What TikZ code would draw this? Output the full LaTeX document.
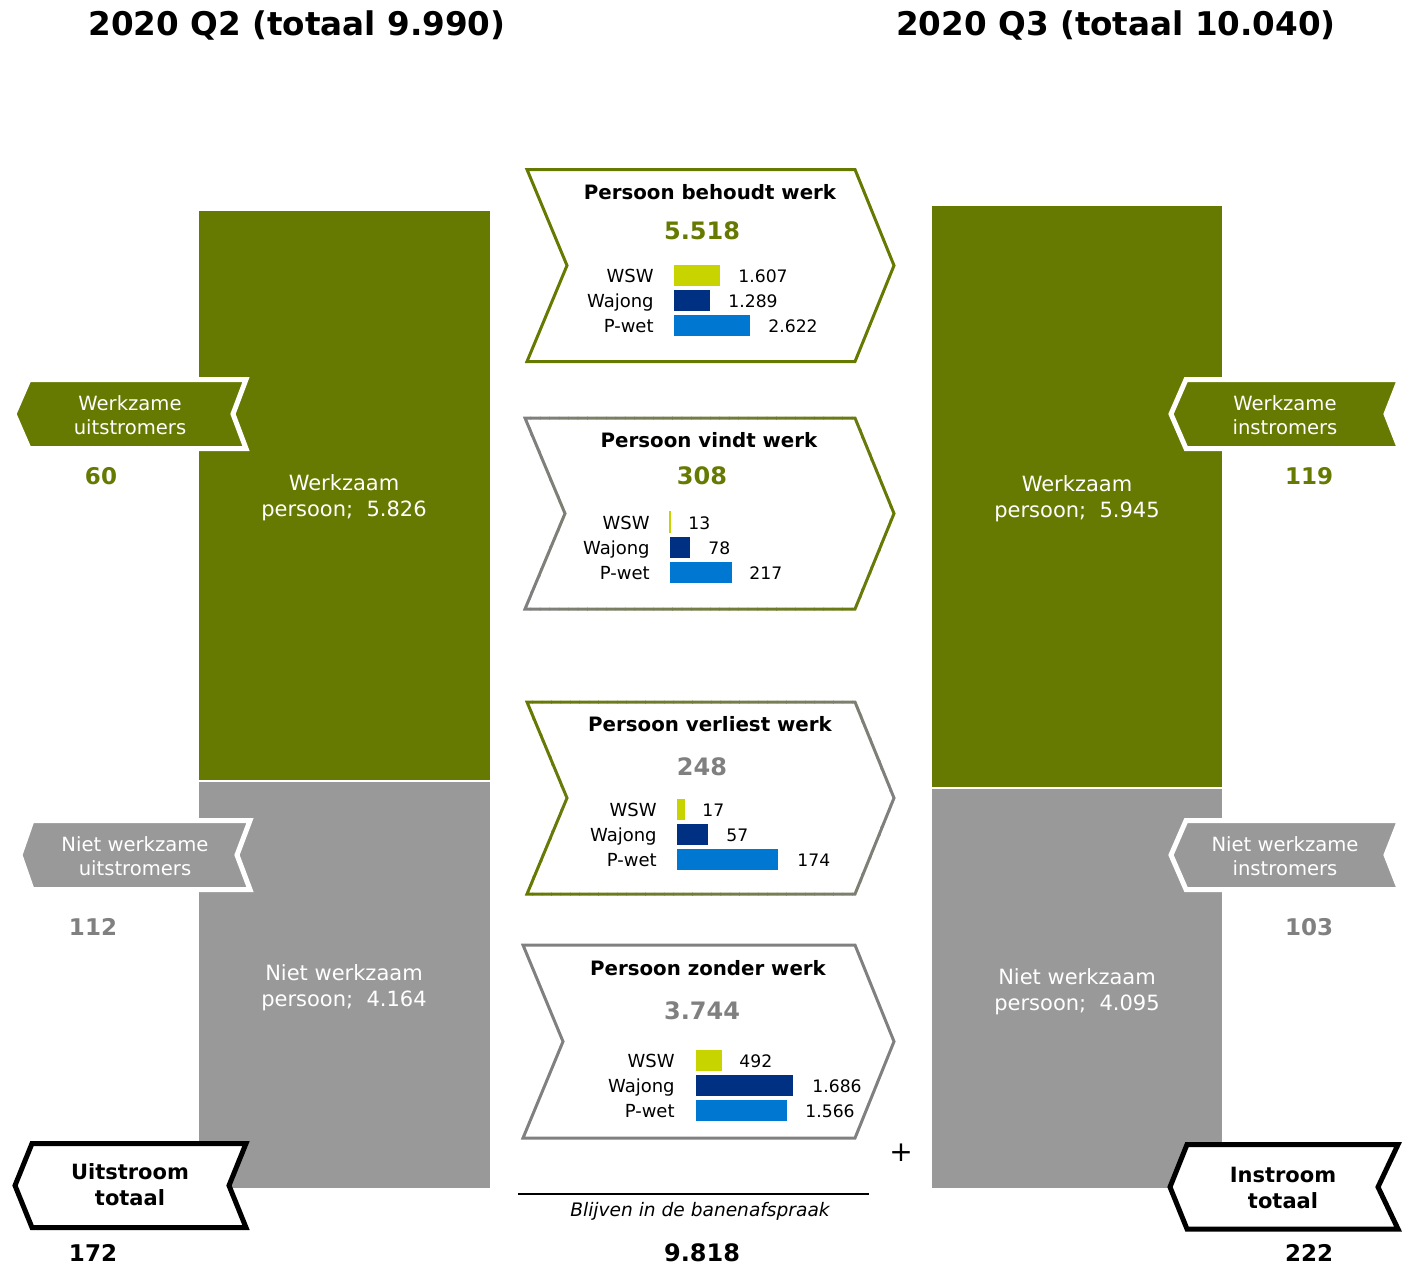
\documentclass[tikz,border=0pt]{standalone}
\usepackage{fontspec}
\setmainfont{DejaVu Sans}
\definecolor{bgreen}{RGB}{102,121,0}
\definecolor{bgrey}{RGB}{153,153,153}
\definecolor{cgrey}{RGB}{128,128,128}
\definecolor{wswc}{RGB}{200,212,0}
\definecolor{wajc}{RGB}{0,48,130}
\definecolor{pwetc}{RGB}{0,120,210}
\newcommand\mychev[5]{\draw[#1] (#2,#3) -- (#4,#3) -- ({#4+39},{(#3+#5)/2}) -- (#4,#5) -- (#2,#5) -- ({#2+40},{(#3+#5)/2}) -- cycle;}
\newcommand\mygradchev[6]{%
 \foreach \i in {0,...,39}{%
  \pgfmathtruncatemacro\pc{100*\i/39}%
  \pgfmathsetmacro\xa{#3-4+(#5+48-#3)*\i/40}%
  \pgfmathsetmacro\xb{#3-4+(#5+48-#3)*(\i+1)/40+0.6}%
  \begin{scope}
   \clip (\xa,{#4-6}) rectangle (\xb,{#6+6});
   \mychev{draw=#2!\pc!#1,chevline}{#3}{#4}{#5}{#6}
  \end{scope}
 }}
\begin{document}
\begin{tikzpicture}[x=0.5pt,y=-0.5pt,
  chevline/.style={line width=1.5pt,line join=miter},
  ribbon/.style={draw=white,line width=2.5pt,line join=miter},
  totbox/.style={draw=black,fill=white,line width=2.5pt,line join=miter},
  ttl/.style={font=\fontsize{16.3}{20}\selectfont\bfseries},
  bartxt/.style={text=white,align=center,font=\fontsize{10.5}{13}\selectfont},
  ribtxt/.style={text=white,align=center,font=\fontsize{9.8}{12}\selectfont},
  tottxt/.style={align=center,font=\fontsize{10.5}{13}\selectfont\bfseries},
  sidenum/.style={font=\fontsize{11.5}{14}\selectfont\bfseries,inner sep=0.5pt},
  chevttl/.style={font=\fontsize{9.9}{12}\selectfont\bfseries},
  chevnum/.style={font=\fontsize{12}{14}\selectfont\bfseries,inner sep=0.5pt},
  lbl/.style={font=\fontsize{9}{11}\selectfont,anchor=mid east,inner sep=0pt,yshift=-1pt},
  val/.style={font=\fontsize{8.6}{11}\selectfont,anchor=mid west,inner sep=0pt,yshift=-1pt},
  barbox/.style={draw=white,line width=0.4pt}]
\useasboundingbox (0,0) rectangle (1407,1265);

% titles
\node[ttl] (t1) at (297,25) {2020 Q2 (totaal 9.990)};
\node[ttl] (t2) at (1116,25) {2020 Q3 (totaal 10.040)};

% stacked bars
\fill[bgreen] (199,211) rectangle (490,780);
\fill[bgrey] (199,782) rectangle (490,1188);
\fill[bgreen] (932,206) rectangle (1222,787);
\fill[bgrey] (932,789) rectangle (1222,1188);
\node[bartxt] (lw) at (344,498) {Werkzaam\\persoon;~ 5.826};
\node[bartxt] (lnw) at (344,988) {Niet werkzaam\\persoon;~ 4.164};
\node[bartxt] (rw) at (1077,499) {Werkzaam\\persoon;~ 5.945};
\node[bartxt] (rnw) at (1077,992) {Niet werkzaam\\persoon;~ 4.095};

% left ribbons
\filldraw[ribbon,fill=bgreen] (14,414) -- (29,379.5) -- (246,379.5) -- (233,414) -- (246,448.5) -- (29,448.5) -- cycle;
\filldraw[ribbon,fill=bgrey] (20,855) -- (32,820.5) -- (250,820.5) -- (237,855) -- (250,889.5) -- (32,889.5) -- cycle;
\filldraw[totbox] (15,1185.5) -- (32,1143.5) -- (246,1143.5) -- (229,1185.5) -- (246,1227.5) -- (32,1227.5) -- cycle;
\node[ribtxt] (wu) at (130,415) {Werkzame\\uitstromers};
\node[ribtxt] (nwu) at (135,856) {Niet werkzame\\uitstromers};
\node[tottxt] (ut) at (130,1185) {Uitstroom\\totaal};
\node[sidenum,text=bgreen] (n60) at (101,476) {60};
\node[sidenum,text=cgrey] (n112) at (93,927) {112};
\node[sidenum] (n172) at (93,1253) {172};

% right ribbons
\filldraw[ribbon,fill=bgreen] (1171,414) -- (1186,379.5) -- (1399.5,379.5) -- (1386,414) -- (1399.5,448.5) -- (1186,448.5) -- cycle;
\filldraw[ribbon,fill=bgrey] (1171,855) -- (1186,820.5) -- (1399.5,820.5) -- (1386,855) -- (1399.5,889.5) -- (1186,889.5) -- cycle;
\filldraw[totbox] (1170,1187) -- (1187,1144.5) -- (1398,1144.5) -- (1378,1187) -- (1398,1229) -- (1187,1229) -- cycle;
\node[ribtxt] (wi) at (1285,415) {Werkzame\\instromers};
\node[ribtxt] (nwi) at (1285,856) {Niet werkzame\\instromers};
\node[tottxt] (it) at (1283,1188) {Instroom\\totaal};
\node[sidenum,text=bgreen] (n119) at (1309,476) {119};
\node[sidenum,text=cgrey] (n103) at (1309,927) {103};
\node[sidenum] (n222) at (1309,1253) {222};

% chevron 1
\mychev{draw=bgreen,chevline}{527}{169.5}{855}{361.5}
\node[chevttl] (c1t) at (710,192) {Persoon behoudt werk};
\node[chevnum,text=bgreen] (c1n) at (702,231) {5.518};
\node[lbl] (c1l1) at (654,275) {WSW};
\node[lbl] (c1l2) at (654,300) {Wajong};
\node[lbl] (c1l3) at (654,325) {P-wet};
\filldraw[barbox,fill=wswc] (673,264) rectangle (720,286);
\filldraw[barbox,fill=wajc] (673,289) rectangle (710,311);
\filldraw[barbox,fill=pwetc] (673,314) rectangle (750,336);
\node[val] (c1v1) at (738,275) {1.607};
\node[val] (c1v2) at (728,300) {1.289};
\node[val] (c1v3) at (768,325) {2.622};

% chevron 2
\mygradchev{cgrey}{bgreen}{525}{418}{855}{609}
\node[chevttl] (c2t) at (709,440) {Persoon vindt werk};
\node[chevnum,text=bgreen] (c2n) at (702,476) {308};
\node[lbl] (c2l1) at (650,522) {WSW};
\node[lbl] (c2l2) at (650,547) {Wajong};
\node[lbl] (c2l3) at (650,572) {P-wet};
\fill[wswc] (669,511) rectangle (671,533);
\filldraw[barbox,fill=wajc] (669,536) rectangle (690,558);
\filldraw[barbox,fill=pwetc] (669,561) rectangle (732,583);
\node[val] (c2v1) at (688,522) {13};
\node[val] (c2v2) at (708,547) {78};
\node[val] (c2v3) at (749,572) {217};

% chevron 3
\mygradchev{bgreen}{cgrey}{527}{702}{855}{894}
\node[chevttl] (c3t) at (710,724) {Persoon verliest werk};
\node[chevnum,text=cgrey] (c3n) at (702,767) {248};
\node[lbl] (c3l1) at (657,809) {WSW};
\node[lbl] (c3l2) at (657,834) {Wajong};
\node[lbl] (c3l3) at (657,859) {P-wet};
\filldraw[barbox,fill=wswc] (676,798) rectangle (685,820);
\filldraw[barbox,fill=wajc] (676,823) rectangle (708,845);
\filldraw[barbox,fill=pwetc] (676,848) rectangle (778,870);
\node[val] (c3v1) at (702,809) {17};
\node[val] (c3v2) at (726,834) {57};
\node[val] (c3v3) at (797,859) {174};

% chevron 4
\mychev{draw=cgrey,chevline}{523}{945}{855}{1138}
\node[chevttl] (c4t) at (708,968) {Persoon zonder werk};
\node[chevnum,text=cgrey] (c4n) at (702,1011) {3.744};
\node[lbl] (c4l1) at (675,1060) {WSW};
\node[lbl] (c4l2) at (675,1085) {Wajong};
\node[lbl] (c4l3) at (675,1110) {P-wet};
\filldraw[barbox,fill=wswc] (695,1049) rectangle (722,1071);
\filldraw[barbox,fill=wajc] (695,1074) rectangle (793,1096);
\filldraw[barbox,fill=pwetc] (695,1099) rectangle (787,1121);
\node[val] (c4v1) at (739,1060) {492};
\node[val] (c4v2) at (812,1085) {1.686};
\node[val] (c4v3) at (805,1110) {1.566};

% sum
\node[font=\fontsize{14}{16}\selectfont] (plus) at (901,1153) {+};
\coordinate (sl) at (518,1194);
\coordinate (sr) at (869,1194);
\draw[line width=0.8pt] (sl) -- (sr);
\node[font=\fontsize{9.3}{11}\selectfont\itshape] (blij) at (700,1211) {Blijven in de banenafspraak};
\node[chevnum] (tot) at (702,1253) {9.818};
\end{tikzpicture}
\end{document}
